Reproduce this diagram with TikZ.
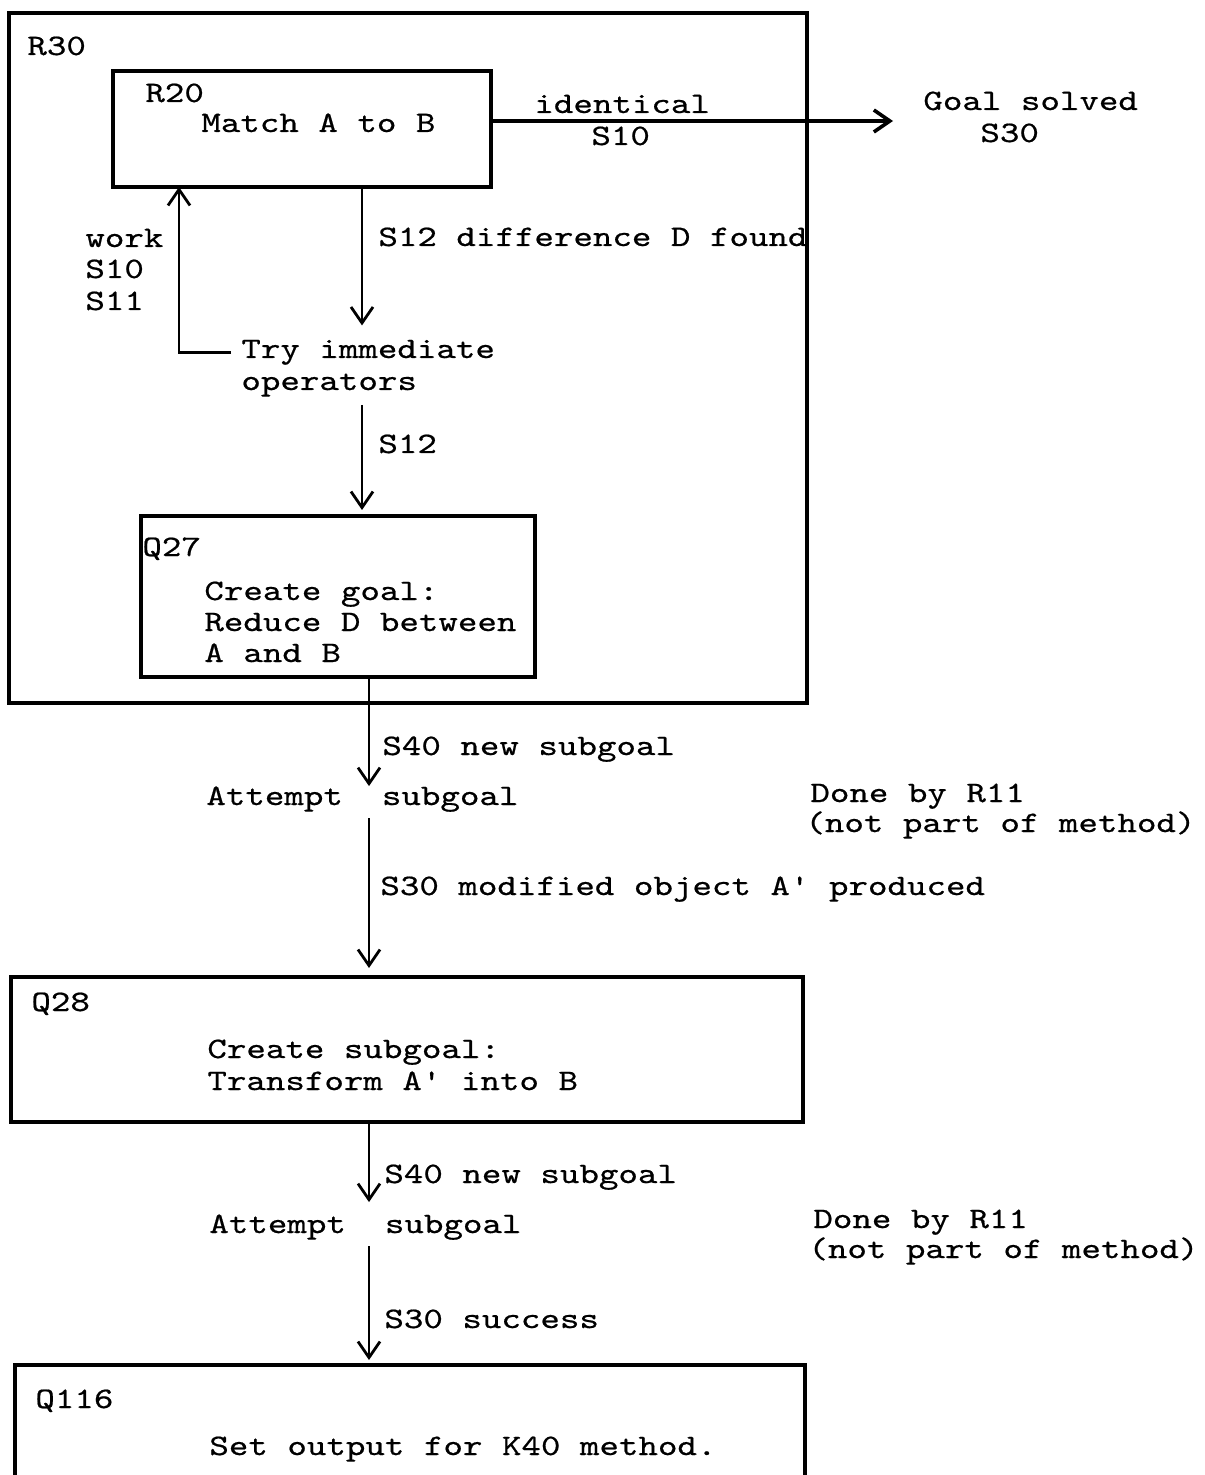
\documentclass[tikz,border=0pt]{standalone}
\usepackage{fontspec}
\setmonofont{lmmono10-regular.otf}[FakeStretch=1.25,FakeBold=0.6]
\usetikzlibrary{arrows.meta,positioning}
\tikzset {
  >={Straight Barb[length=8pt,width=11pt]},
  every node/.style={font=\ttfamily\fontsize{14.86}{16}\selectfont},
}
\begin{document}
\begin{tikzpicture}[x=0.5pt,y=-0.5pt,
    box/.style={draw,line width=1.9pt,anchor=north west,inner sep=0pt,outer sep=0pt},
    txt/.style={anchor=base west,inner sep=0pt},
    flow/.style={->,line width=1.4pt}]
          \clip (0,0) rectangle (1204,1475);
          \coordinate (fb) at (179,0);
          \coordinate (colA) at (362,0);
          \coordinate (colB) at (369,0);

          \node (r30) at (9,13)[box,minimum width=399pt,minimum height=345pt]{};
          \node (r20) at (113,71)[box,minimum width=189pt,minimum height=58pt]{};
          \node (q27) at (141,516)[box,minimum width=197pt,minimum height=80.5pt]{};
          \node (q28) at (11,977)[box,minimum width=396pt,minimum height=72.5pt]{};
          \node (q116) at (15,1365)[box,minimum width=395pt,minimum height=80pt]{};

          \node (r30lbl) at (27,55)[txt]{R30};
          \node (r20lbl) at (145,102)[txt]{R20};
          \node (match) at (201,132)[txt]{Match A to B};
          \node (ident) at (534,113)[txt]{identical};
          \node (idents) at (591,145)[txt]{S10};
          \node (goal) at (923,110)[txt]{Goal solved};
          \node (goals) at (980,142)[txt]{S30};
          \node (diff) at (378,246)[txt]{S12 difference D found};
          \node (work) at (85,247)[txt]{work};
          \node (worka) at (85,278)[txt]{S10};
          \node (workb) at (85,310)[txt]{S11};
          \node (try) at (241,358)[txt]{Try immediate};
          \node (oper) at (241,390)[txt]{operators};
          \node (tryout) at (378,453)[txt]{S12};

          \node (q27lbl) at (142,556)[txt]{Q27};
          \node (goala) at (204,600)[txt]{Create goal:};
          \node (goalb) at (204,631)[txt]{Reduce D between};
          \node (goalc) at (204,662)[txt]{A and B};

          \node (newa) at (382,755)[txt]{S40 new subgoal};
          \node (atta) at (206,805)[txt]{Attempt\ \ subgoal};
          \node (donea) at (810,802)[txt]{Done by R11};
          \node (nota) at (805,832)[txt]{(not part of method)};
          \node (prod) at (380,895)[txt]{S30 modified object A' produced};

          \node (q28lbl) at (31,1011)[txt]{Q28};
          \node (suba) at (207,1058)[txt]{Create subgoal:};
          \node (subb) at (207,1090)[txt]{Transform A' into B};

          \node (newb) at (384,1183)[txt]{S40 new subgoal};
          \node (attb) at (209,1233)[txt]{Attempt\ \ subgoal};
          \node (doneb) at (813,1228)[txt]{Done by R11};
          \node (notb) at (808,1258)[txt]{(not part of method)};
          \node (succ) at (384,1328)[txt]{S30 success};

          \node (q116lbl) at (35,1408)[txt]{Q116};
          \node (setout) at (209,1455)[txt]{Set output for K40 method.};

          \draw[flow,line width=1.8pt] ([yshift=4pt]r20.east) -- ([yshift=4pt,xshift=-15pt]r20.east -| goal.west);
          \draw[flow] (r20.south -| colA) -- ([yshift=7pt]try.north -| colA);
          \draw[flow] ([xshift=-5pt]try.west) -| (r20.south -| fb);
          \draw[flow,shorten >=3pt] ([yshift=-4pt]oper.south -| colA) -- (q27.north -| colA);
          \draw[flow] (q27.south -| colB) -- (atta.north -| colB);
          \draw[flow,shorten >=4.5pt] ([yshift=-3pt]atta.south -| colB) -- (q28.north -| colB);
          \draw[flow] (q28.south -| colB) -- ([yshift=6pt]attb.north -| colB);
          \draw[flow,shorten >=2.5pt] ([yshift=-3pt]attb.south -| colB) -- (q116.north -| colB);
        \end{tikzpicture}
\end{document}
